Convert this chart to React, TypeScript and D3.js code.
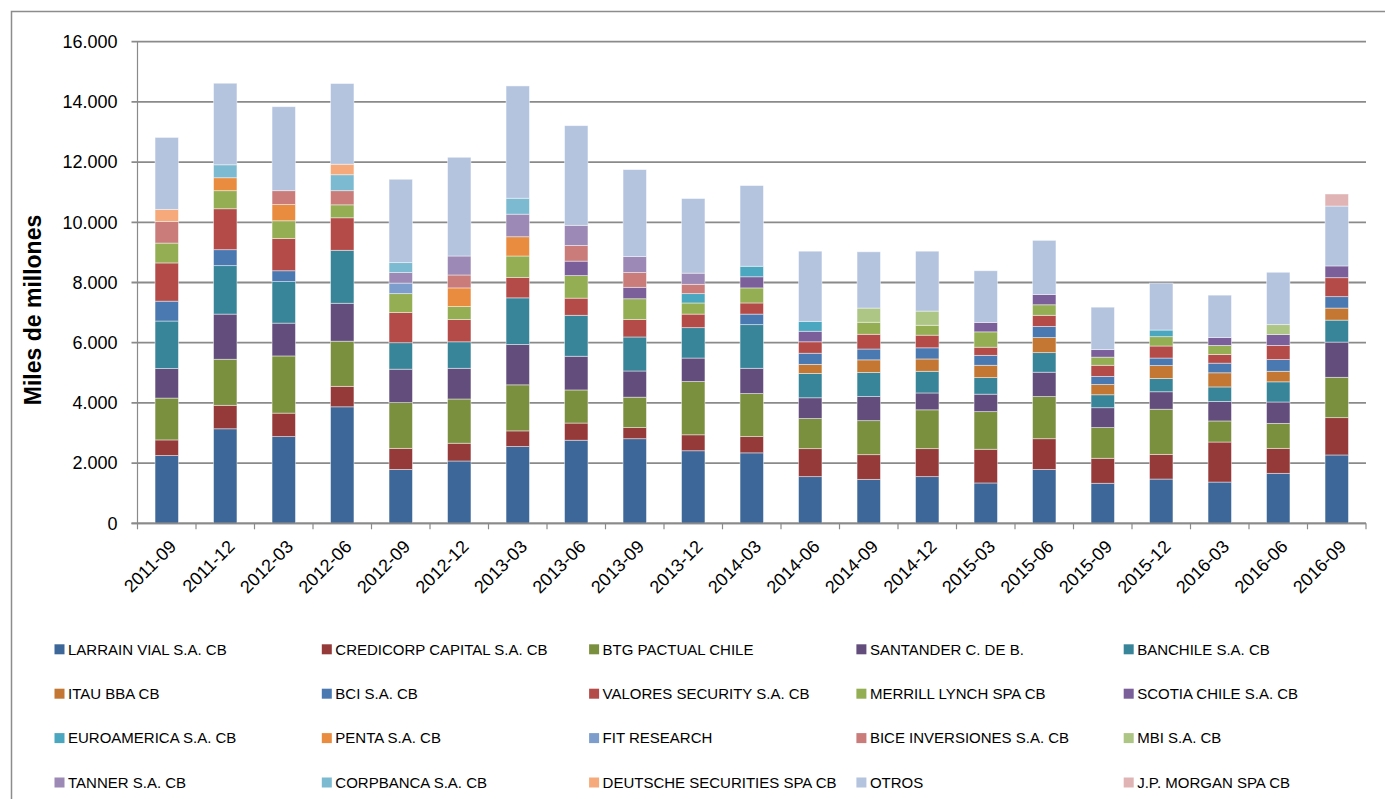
import React, { useEffect, useRef } from 'react';
import * as d3 from 'd3';

const categories = ['2011-09','2011-12','2012-03','2012-06','2012-09','2012-12','2013-03','2013-06','2013-09','2013-12','2014-03','2014-06','2014-09','2014-12','2015-03','2015-06','2015-09','2015-12','2016-03','2016-06','2016-09'];

const seriesNames = ['LARRAIN VIAL S.A. CB','CREDICORP CAPITAL S.A. CB','BTG PACTUAL CHILE','SANTANDER C. DE B.','BANCHILE S.A. CB','ITAU BBA CB','BCI S.A. CB','VALORES SECURITY S.A. CB','MERRILL LYNCH SPA CB','SCOTIA CHILE S.A. CB','EUROAMERICA S.A. CB','PENTA S.A. CB','FIT RESEARCH','BICE INVERSIONES S.A. CB','MBI S.A. CB','TANNER S.A. CB','CORPBANCA S.A. CB','DEUTSCHE SECURITIES SPA CB','OTROS','J.P. MORGAN SPA CB'];

const seriesColors = ['#3d6699','#953a38','#7a903f','#634d7c','#38859a','#c47733','#4a79b2','#b54b48','#94ae53','#7a5f9a','#4ba6c0','#e98c40','#7d9ecd','#ca7c7b','#adc585','#9d89b5','#7cbad1','#f6aa7b','#b4c4df','#e0b4b4'];

const larrainVial   = [2250,3140,2880,3870,1790,2070,2550,2760,2810,2410,2340,1550,1460,1550,1340,1790,1330,1470,1370,1660,2270];
const credicorp     = [520,780,780,680,700,590,520,570,370,530,540,930,820,930,1120,1020,830,820,1330,830,1240];
const btgPactual    = [1390,1530,1900,1500,1520,1470,1530,1100,1010,1770,1430,1000,1130,1290,1250,1400,1020,1500,700,830,1340];
const santander     = [980,1500,1090,1260,1110,1020,1340,1120,870,780,840,690,800,560,580,810,660,580,650,710,1170];
const banchile      = [1580,1610,1380,1760,880,880,1550,1360,1130,1010,1450,810,800,720,550,650,430,440,480,670,730];
const itau          = [0,0,0,0,0,0,0,0,0,0,0,300,420,410,410,500,340,430,470,350,400];
const bci           = [660,530,360,0,0,0,0,0,0,0,350,370,360,370,330,370,270,250,320,390,380];
const valoresSec    = [1270,1360,1070,1080,1000,740,680,570,580,450,370,380,490,420,270,370,370,400,290,470,630];
const merrillLynch  = [660,600,590,430,630,430,710,750,690,370,500,0,400,330,510,350,270,310,300,0,0];
const scotia        = [0,0,0,0,0,0,0,480,380,0,370,350,0,0,310,340,250,0,260,360,390];
const euroamerica   = [0,0,0,0,0,0,0,0,0,310,350,330,0,0,0,0,0,220,0,0,0];
const penta         = [0,430,540,0,0,620,640,0,0,0,0,0,0,0,0,0,0,0,0,0,0];
const fitResearch   = [0,0,0,0,350,0,0,0,0,0,0,0,0,0,0,0,0,0,0,0,0];
const bice          = [720,0,460,470,0,430,0,520,490,310,0,0,0,0,0,0,0,0,0,0,0];
const mbi           = [0,0,0,0,0,0,0,0,0,0,0,0,470,470,0,0,0,0,0,330,0];
const tanner        = [0,0,0,0,350,630,750,670,530,370,0,0,0,0,0,0,0,0,0,0,0];
const corpbanca     = [0,430,0,530,330,0,530,0,0,0,0,0,0,0,0,0,0,0,0,0,0];
const deutsche      = [400,0,0,350,0,0,0,0,0,0,0,0,0,0,0,0,0,0,0,0,0];
const otros         = [2390,2710,2790,2680,2770,3280,3730,3310,2890,2480,2680,2330,1870,1990,1720,1800,1410,1560,1410,1740,1990];
const jpMorgan      = [0,0,0,0,0,0,0,0,0,0,0,0,0,0,0,0,0,0,0,0,400];

const seriesValues = [larrainVial,credicorp,btgPactual,santander,banchile,itau,bci,valoresSec,merrillLynch,scotia,euroamerica,penta,fitResearch,bice,mbi,tanner,corpbanca,deutsche,otros,jpMorgan];

const yTicks = [0,2000,4000,6000,8000,10000,12000,14000,16000];
const yTitle = 'Miles de millones';

export default function App() {
  const ref = useRef<SVGSVGElement>(null);
  useEffect(() => {
    const svg = d3.select(ref.current);
    svg.selectAll('*').remove();
    const font = '"Liberation Sans", Arial, sans-serif';

    const x0 = 137.5, x1 = 1366, yTop = 41.7, yBot = 523.3;
    const x = d3.scaleBand<string>().domain(categories).range([x0, x1]).paddingInner(0.6).paddingOuter(0.3);
    const y = d3.scaleLinear().domain([0, 16000]).range([yBot, yTop]);
    const step = x.step();

    // chart border
    svg.append('rect').attr('x', 11.5).attr('y', 11.5).attr('width', 1400).attr('height', 800)
      .attr('fill', 'none').attr('stroke', '#8c8c8c').attr('stroke-width', 1.5);

    // gridlines
    svg.append('g').selectAll('line').data(yTicks).join('line')
      .attr('x1', x0 - 6).attr('x2', x1).attr('y1', d => y(d)).attr('y2', d => y(d))
      .attr('stroke', '#8a8a8a').attr('stroke-width', 1.8);

    // y tick labels
    const loc = d3.formatLocale({ decimal: ',', thousands: '.', grouping: [3], currency: ['', ''] });
    const fmt = loc.format(',d');
    svg.append('g').selectAll('text').data(yTicks).join('text')
      .attr('x', x0 - 20).attr('y', d => y(d)).attr('dy', '0.35em')
      .attr('text-anchor', 'end').attr('font-family', font).attr('font-size', 18).attr('fill', '#000')
      .text(d => fmt(d));

    // y title
    svg.append('text').attr('transform', `translate(41,310) rotate(-90)`)
      .attr('text-anchor', 'middle').attr('font-family', font).attr('font-weight', 'bold')
      .attr('font-size', 23).attr('fill', '#000').text(yTitle);

    // bars
    const rows = categories.map((c, i) => {
      const r: any = { cat: c };
      seriesNames.forEach((s, j) => { r[s] = seriesValues[j][i]; });
      return r;
    });
    const stacked = d3.stack<any>().keys(seriesNames)(rows);
    svg.append('g').selectAll('g').data(stacked).join('g')
      .attr('fill', (_d, i) => seriesColors[i])
      .selectAll('rect').data(d => d.filter(p => p[1] - p[0] > 0)).join('rect')
      .attr('x', d => x(d.data.cat)!).attr('width', x.bandwidth())
      .attr('y', d => y(d[1])).attr('height', d => y(d[0]) - y(d[1]))
      .attr('stroke', 'rgba(255,255,255,0.55)').attr('stroke-width', 0.8);

    // axes lines
    svg.append('line').attr('x1', x0).attr('x2', x0).attr('y1', yTop).attr('y2', yBot)
      .attr('stroke', '#8a8a8a').attr('stroke-width', 1.2);
    svg.append('line').attr('x1', x0 - 6).attr('x2', x1).attr('y1', yBot).attr('y2', yBot)
      .attr('stroke', '#8a8a8a').attr('stroke-width', 1.8);
    const bounds = d3.range(categories.length + 1).map(i => x0 + i * step);
    svg.append('g').selectAll('line').data(bounds).join('line')
      .attr('x1', d => d).attr('x2', d => d).attr('y1', yBot).attr('y2', yBot + 6)
      .attr('stroke', '#8a8a8a').attr('stroke-width', 1.2);

    // x labels
    svg.append('g').selectAll('text').data(categories).join('text')
      .attr('transform', d => `translate(${x(d)! + x.bandwidth() / 2 + 6},${yBot + 20}) rotate(-45)`)
      .attr('text-anchor', 'end').attr('dy', '0.35em')
      .attr('font-family', font).attr('font-size', 18).attr('fill', '#000').text(d => d);

    // legend
    const lg = svg.append('g');
    seriesNames.forEach((s, i) => {
      const col = i % 5, row = Math.floor(i / 5);
      const lx = 54.5 + col * 267.3, ly = 649.3 + row * 44.4;
      lg.append('rect').attr('x', lx).attr('y', ly - 5).attr('width', 10).attr('height', 10).attr('fill', seriesColors[i]);
      lg.append('text').attr('x', lx + 13.5).attr('y', ly).attr('dy', '0.35em')
        .attr('font-family', font).attr('font-size', 15).attr('fill', '#000').text(s);
    });
  }, []);
  return <svg ref={ref} width={1385} height={799} style={{ position: 'absolute', left: 0, top: 0, background: '#fff' }} />;
}
